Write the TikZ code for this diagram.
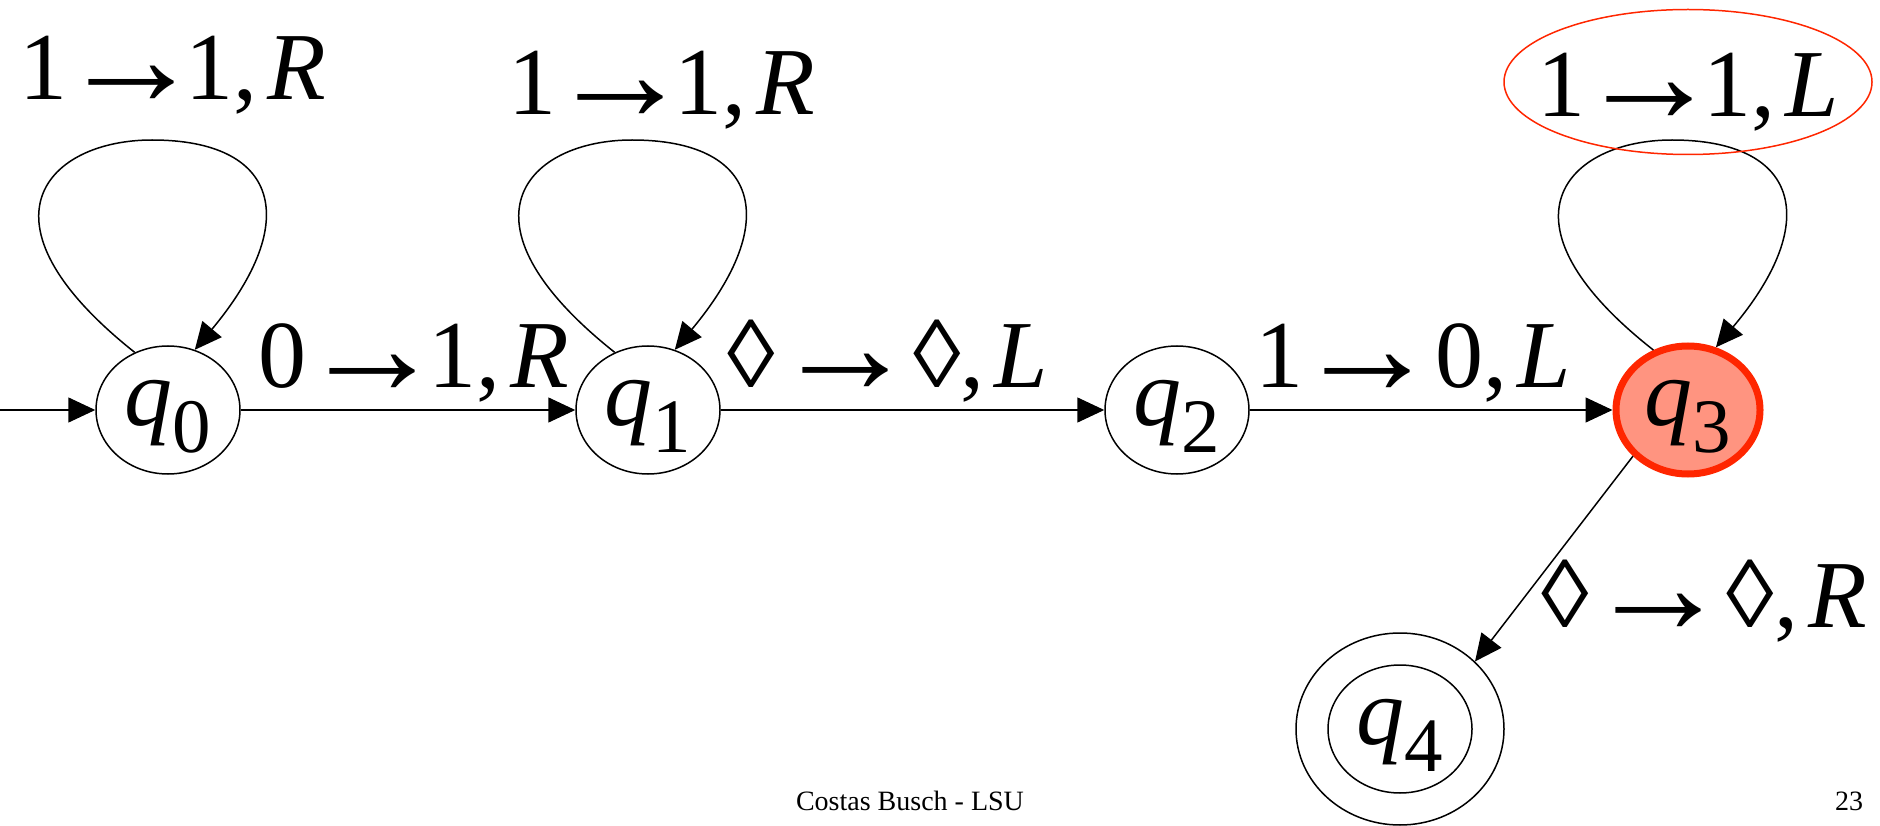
\documentclass[tikz,border=0pt]{standalone}
\usepackage{fontspec}
\usepackage{graphicx}
\setmainfont{Liberation Serif}
\usetikzlibrary{arrows.meta,shapes.geometric,calc}
\newcommand{\bigf}{\fontsize{96}{96}\selectfont}
\newcommand{\subf}{\fontsize{77}{77}\selectfont}
\newcommand{\qs}[1]{\textit{q}\raisebox{-27pt}{\subf #1}}
\newcommand{\ra}{\makebox[84pt]{\raisebox{-6pt}{\scalebox{1.5}[1.45]{→}}}}
\definecolor{hired}{RGB}{255,38,0}
\definecolor{salmon}{RGB}{255,148,128}
\begin{document}
\begin{tikzpicture}[x=1pt,y=-1pt,
  state/.style={ellipse,draw,line width=1.5pt,minimum width=144pt,minimum height=128pt,inner sep=0pt,
    font=\bigf,text height=57pt,text depth=27pt},
  cur/.style={state,draw=hired,fill=salmon,line width=7pt},
  edge/.style={line width=1.5pt,-{Triangle[length=27pt,width=25pt]}},
  lab/.style={font=\bigf,anchor=base,inner sep=0pt},
  foot/.style={font=\fontsize{28}{28}\selectfont,anchor=base,inner sep=0pt}]
\useasboundingbox (0,0) rectangle (1880,826);

\node[state] (q0) at (168,410) {\qs{0}};
\node[state] (q1) at (648,410) {\qs{1}};
\node[state] (q2) at (1177,410) {\qs{2}};
\node[cur]   (q3) at (1688,410) {\qs{3}};
\node[state,minimum width=208pt,minimum height=192pt] (q4) at (1400,729) {\qs{4}};
\draw[line width=1.5pt] (q4) ellipse [x radius=72, y radius=64];

\coordinate (init) at (0,410);
\draw[edge] (init) -- (q0);
\draw[edge] (q0) -- (q1);
\draw[edge] (q1) -- (q2);
\draw[edge] (q2) -- (q3);
\draw[edge] (q3.220) -- (q4.42);

\foreach \n in {q0,q1,q3}{
  \draw[edge] (\n.120) .. controls ($(\n)+(-200,-190)$) and ($(\n)+(-120,-270)$) ..
    ($(\n)+(-16,-270)$) .. controls ($(\n)+(110,-270)$) and ($(\n)+(135,-190)$) .. (\n.66);
}

\node[lab] (l0) at (173,100) {1\hspace{22pt}\ra\hspace{12pt}1,\hspace{10pt}\textit{R}};
\node[lab] (l1) at (662,115) {1\hspace{22pt}\ra\hspace{12pt}1,\hspace{10pt}\textit{R}};
\node[lab] (l3) at (1688,117) {1\hspace{22pt}\ra\hspace{12pt}1,\hspace{10pt}\textit{L}};
\node[draw=hired,line width=1.5pt,ellipse,minimum width=368pt,minimum height=145pt,inner sep=0pt] (hl) at (1688,82) {};
\node[lab] (l01) at (414,388) {0\hspace{24pt}\ra\hspace{14pt}1,\hspace{10pt}\textit{R}};
\node[lab] (l12) at (888,387) {◊\hspace{28pt}\ra\hspace{26pt}◊,\hspace{10pt}\textit{L}};
\node[lab] (l23) at (1413,388) {1\hspace{22pt}\ra\hspace{26pt}0,\hspace{10pt}\textit{L}};
\node[lab] (l34) at (1704,627) {◊\hspace{28pt}\ra\hspace{26pt}◊,\hspace{10pt}\textit{R}};

\node[foot] (ft) at (910,810) {Costas Busch - LSU};
\node[foot] (pg) at (1849,810) {23};
\end{tikzpicture}
\end{document}
